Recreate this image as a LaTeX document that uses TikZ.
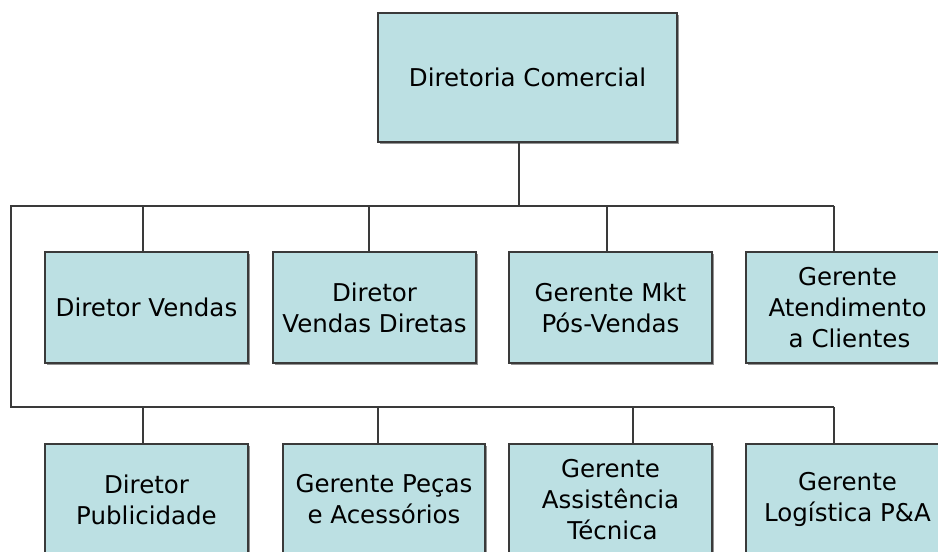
\documentclass[tikz,border=0pt]{standalone}
\usepackage{fontspec}
\setmainfont{DejaVu Sans}
\usepackage{tikz}
\usetikzlibrary{shadows,positioning}
\definecolor{boxfill}{HTML}{BCE0E3}
\definecolor{edgegray}{HTML}{3A3A3A}
\tikzset{
  cargo/.style={draw=edgegray, line width=1.1pt, fill=boxfill, align=center,
    minimum width=203pt, minimum height=111pt, inner sep=0pt,
    font=\fontsize{24.5}{31}\selectfont,
    drop shadow={shadow xshift=1.6pt, shadow yshift=-1.6pt, fill=gray!85, opacity=1}},
  linha/.style={draw=edgegray, line width=1.1pt}
}
\begin{document}
\begin{tikzpicture}[x=1pt,y=-1pt]
            \useasboundingbox (0,0) rectangle (938,552);
            \node [cargo, minimum width=299pt, minimum height=129pt] (dir) at (527.5,77.5) {Diretoria Comercial};

            \node [cargo] (dv)  at (146.5,307.5) {Diretor Vendas};
            \node [cargo] (dvd) at (374.5,307.5) {Diretor\\Vendas Diretas};
            \node [cargo] (mkt) at (610.5,307.5) {Gerente Mkt\\Pós-Vendas};
            \node [cargo] (atd) at (847.5,307.5) {Gerente\\Atendimento\\\hspace*{4pt}a Clientes};

            \node [cargo] (pub) at (146.5,499.5) {Diretor\\Publicidade};
            \node [cargo, minimum width=202pt] (pec) at (384,499.5) {Gerente Peças\\e Acessórios};
            \node [cargo] (ast) at (610.5,499.5) {Gerente\\Assistência\\\hspace*{4pt}Técnica};
            \node [cargo] (log) at (847.5,499.5) {Gerente\\Logística P\&A};

            % barras horizontais
            \coordinate (c1) at (11,206);
            \coordinate (c2) at (11,407);
            \coordinate (topo) at (519,206);
            \draw [linha] (dir.south -| topo) -- (topo);
            \draw [linha] (834,206) -- (c1) -- (c2) -- (834,407);

            \foreach \x/\b in {143/dv, 369/dvd, 607/mkt, 834/atd}{
                \coordinate (r\b) at (\x,206);
                \draw [linha] (r\b) -- (r\b |- \b.north);
            };
            \foreach \x/\b in {143/pub, 378/pec, 633/ast, 834/log}{
                \coordinate (r\b) at (\x,407);
                \draw [linha] (r\b) -- (r\b |- \b.north);
            };
\end{tikzpicture}
\end{document}
